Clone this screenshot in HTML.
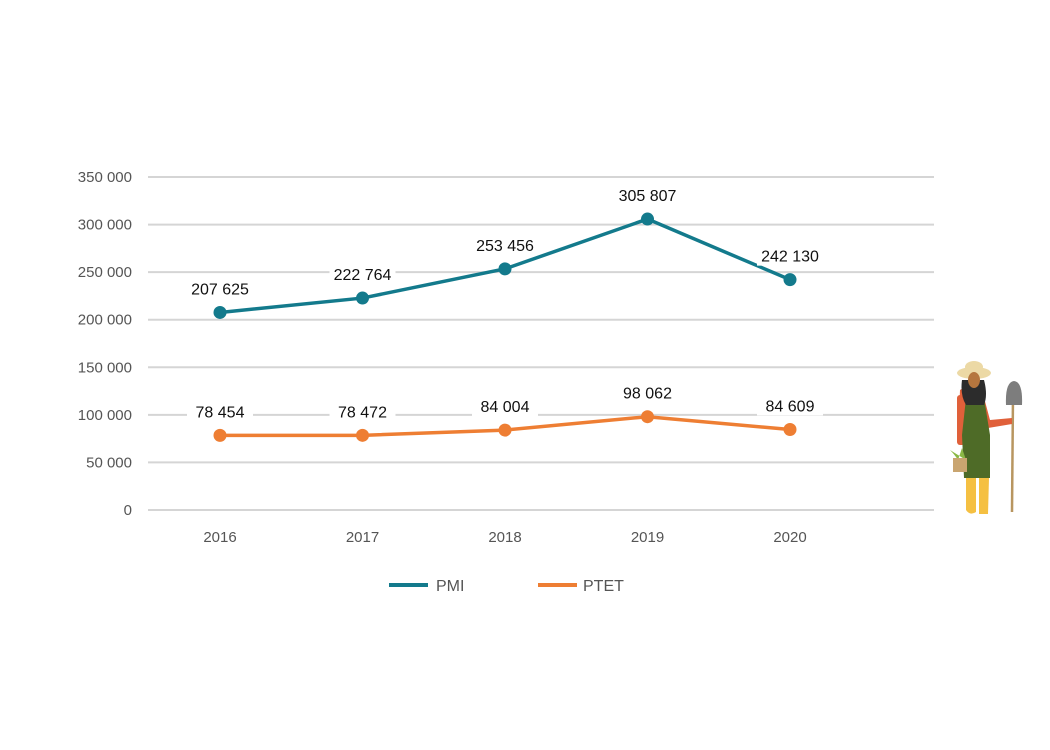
<!DOCTYPE html>
<html><head><meta charset="utf-8"><style>
html,body{margin:0;padding:0;background:#fff;}
svg{display:block;font-family:"Liberation Sans",sans-serif;}
</style></head><body>
<svg id="chart" width="1050" height="750" viewBox="0 0 1050 750">
<g id="grid"></g>
<g id="yticks"></g>
<g id="xticks"></g>
<g id="series"></g>
<g>
  <g>
    <line x1="389" y1="585" x2="428" y2="585" stroke="#137a8c" stroke-width="4"/>
    <text x="436" y="591" font-size="16" fill="#555">PMI</text>
  </g>
  <g>
    <line x1="538" y1="585" x2="577" y2="585" stroke="#ee7e33" stroke-width="4"/>
    <text x="583" y="591" font-size="16" fill="#555">PTET</text>
  </g>
</g>
<g>
  <line x1="1013" y1="395" x2="1012" y2="512" stroke="#b89660" stroke-width="2.5"/>
  <path d="M1006 405 Q1005 382 1014 381 Q1023 382 1022 405 Z" fill="#7d7d7d"/>
  <path d="M960 390 Q970 383 982 390 L990 420 L1012 418 L1012 424 L988 428 L958 440 Z" fill="#e0603a"/>
  <rect x="957" y="395" width="8" height="50" rx="3" fill="#e0603a"/>
  <path d="M966 398 Q974 390 984 398 L990 435 L990 478 L964 478 L962 435 Z" fill="#4e6b27"/>
  <path d="M962 380 Q960 395 966 405 L984 405 Q988 395 984 380 Z" fill="#2c2c2c"/>
  <ellipse cx="974" cy="373" rx="17" ry="6" fill="#ecd9a5"/>
  <ellipse cx="974" cy="367" rx="9" ry="6" fill="#ecd9a5"/>
  <ellipse cx="974" cy="380" rx="6" ry="8" fill="#b5763e"/>
  <path d="M950 450 Q955 455 958 460 L962 448 L966 460 Z" fill="#8ab844"/>
  <rect x="953" y="458" width="14" height="14" fill="#c9a570"/>
  <path d="M966 478 L976 478 L976 512 Q970 516 966 510 Z" fill="#f5c042"/>
  <path d="M979 478 L989 478 L988 514 L979 514 Z" fill="#f5c042"/>
</g>
</svg>
<script>
const categories = ["2016","2017","2018","2019","2020"];
const pmiValues = [207625, 222764, 253456, 305807, 242130];
const ptetValues = [78454, 78472, 84004, 98062, 84609];
const pmiLabels = ["207 625","222 764","253 456","305 807","242 130"];
const ptetLabels = ["78 454","78 472","84 004","98 062","84 609"];
const yTicks = [0,50000,100000,150000,200000,250000,300000,350000];
const yTickLabels = ["0","50 000","100 000","150 000","200 000","250 000","300 000","350 000"];

const NS="http://www.w3.org/2000/svg";
const y0=510, y1=177, yMax=350000;
function yScale(v){return y0-(v/yMax)*(y0-y1);}
function xScale(i){return 220+i*142.5;}
function mk(tag,attrs,parent){const e=document.createElementNS(NS,tag);for(const k in attrs)e.setAttribute(k,attrs[k]);parent.appendChild(e);return e;}

const grid=document.getElementById('grid'), yt=document.getElementById('yticks'), xt=document.getElementById('xticks'), ser=document.getElementById('series');
yTicks.forEach((t,i)=>{
  const l=mk('line',{x1:148,x2:934,y1:yScale(t),y2:yScale(t),stroke:'#d5d5d5','stroke-width':2},grid);
  
  
  const tx=mk('text',{x:132,y:yScale(t)+5,'text-anchor':'end','font-size':15,fill:'#555'},yt);
  tx.textContent=yTickLabels[i];
  
  
});
categories.forEach((c,i)=>{
  const tx=mk('text',{x:xScale(i),y:542,'text-anchor':'middle','font-size':15,fill:'#555'},xt);
  tx.textContent=c;
  
  
});
function drawSeries(vals,labels,color,name){
  const g=mk('g',{},ser);
  
  
  const pts=vals.map((v,i)=>xScale(i)+','+yScale(v)).join(' ');
  const pl=mk('polyline',{points:pts,fill:'none',stroke:color,'stroke-width':3.5},g);
  
  
  vals.forEach((v,i)=>{
    const c=mk('circle',{cx:xScale(i),cy:yScale(v),r:6.5,fill:color},g);
    
    
    const ly=yScale(v)-20;
    const bg=mk('rect',{x:xScale(i)-33,y:ly-14,width:66,height:20,fill:'#fff'},g);
    
    
    const t=mk('text',{x:xScale(i),y:ly+2,'text-anchor':'middle','font-size':16,fill:'#111'},g);
    t.textContent=labels[i];
    
    
  });
}
drawSeries(pmiValues,pmiLabels,'#137a8c','pmi');
drawSeries(ptetValues,ptetLabels,'#ee7e33','ptet');
</script>
</body></html>
